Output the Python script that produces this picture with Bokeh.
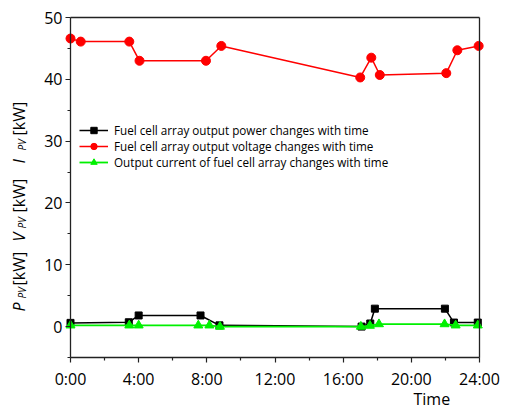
import math
from bokeh.plotting import figure
from bokeh.models import FixedTicker, Label, LinearAxis
from bokeh.embed import file_html
from bokeh.resources import INLINE

# ---- data ----
hours_power = [0, 3.42, 4.0, 7.63, 8.74, 17.08, 17.59, 17.86, 21.97, 22.5, 23.9]
power_kw = [0.6, 0.7, 1.8, 1.8, 0.2, 0.0, 0.5, 2.9, 2.9, 0.65, 0.65]

hours_voltage = [0, 0.6, 3.45, 4.05, 7.95, 8.85, 17.0, 17.65, 18.15, 22.05, 22.7, 23.95]
voltage_kw = [46.6, 46.1, 46.1, 43.0, 43.0, 45.4, 40.3, 43.5, 40.7, 41.0, 44.7, 45.4]

hours_current = [0, 3.45, 4.0, 7.5, 8.15, 8.77, 17.04, 17.57, 18.1, 21.95, 22.6, 23.9]
current_kw = [0.2, 0.2, 0.2, 0.2, 0.2, 0.0, 0.0, 0.15, 0.4, 0.4, 0.2, 0.2]

x_tick_values = [0, 4, 8, 12, 16, 20, 24]
x_tick_labels = ["0:00", "4:00", "8:00", "12:00", "16:00", "20:00", "24:00"]
x_minor_values = [2, 6, 10, 14, 18, 22]
y_tick_values = [0, 10, 20, 30, 40, 50]
y_minor_values = [-5, 5, 15, 25, 35, 45]

labels = [
    "Fuel cell array output power changes with time",
    "Fuel cell array output voltage changes with time",
    "Output current of fuel cell array changes with time",
]

FONT = "Open Sans"
AX = "#222222"

X0, X1 = 0, 24          # plotted time span
Y0, Y1 = -5, 50         # plotted value span
W, H = 505, 408
FL, FR, FT, FB = 70, 479, 17, 357   # page pixels of the plot box

sx = (FR - FL) / (X1 - X0)
sy = (FB - FT) / (Y1 - Y0)
xr = (X0 - FL / sx, X1 + (W - FR) / sx)
yr = (Y0 - (H - FB) / sy, Y1 + FT / sy)

# the frame fills the canvas; axes are pinned to the plot box edges
p = figure(width=W, height=H, x_range=xr, y_range=yr,
           output_backend="svg", toolbar_location=None,
           x_axis_location=None, y_axis_location=None,
           min_border_left=0, min_border_right=0,
           min_border_top=0, min_border_bottom=0)
p.xgrid.visible = False
p.ygrid.visible = False
p.outline_line_color = None
p.background_fill_color = "white"
p.border_fill_color = "white"


def style_axis(ax):
    ax.axis_line_color = AX
    ax.axis_line_width = 1.3
    ax.major_tick_line_color = AX
    ax.minor_tick_line_color = AX
    ax.major_tick_line_width = 1.2
    ax.minor_tick_line_width = 1.2
    ax.major_tick_out = 5
    ax.major_tick_in = 0
    ax.minor_tick_out = 3
    ax.minor_tick_in = 0
    ax.major_label_text_font = FONT
    ax.major_label_text_font_size = "16px"
    ax.major_label_text_color = "black"


xaxis = LinearAxis(fixed_location=Y0, bounds=(X0, X1),
                   ticker=FixedTicker(ticks=x_tick_values, minor_ticks=x_minor_values),
                   major_label_overrides=dict(zip(x_tick_values, x_tick_labels)),
                   major_label_standoff=5)
style_axis(xaxis)
p.add_layout(xaxis, "below")

yaxis = LinearAxis(fixed_location=X0, bounds=(Y0, Y1),
                   ticker=FixedTicker(ticks=y_tick_values, minor_ticks=y_minor_values),
                   major_label_standoff=3)
style_axis(yaxis)
p.add_layout(yaxis, "left")

# plain frame lines on top and right
for place, loc, bnds in (("above", Y1, (X0, X1)), ("right", X1, (Y0, Y1))):
    ax = LinearAxis(fixed_location=loc, bounds=bnds, ticker=FixedTicker(ticks=[]),
                    major_label_text_font_size="0px")
    ax.axis_line_color = AX
    ax.axis_line_width = 1.3
    ax.major_tick_line_color = None
    ax.minor_tick_line_color = None
    p.add_layout(ax, place)

GREEN = "#00f000"

# series
p.line(hours_power, power_kw, line_color="black", line_width=1.5, legend_label=labels[0])
p.scatter(hours_power, power_kw, marker="square", size=7, fill_color="black",
          line_color="black", legend_label=labels[0])

p.line(hours_voltage, voltage_kw, line_color="#ff0000", line_width=1.5, legend_label=labels[1])
p.scatter(hours_voltage, voltage_kw, marker="circle", size=9, fill_color="#ff0000",
          line_color="#ff0000", legend_label=labels[1])

p.line(hours_current, current_kw, line_color=GREEN, line_width=1.8, legend_label=labels[2])
p.scatter(hours_current, current_kw, marker="triangle", size=9, fill_color=GREEN,
          line_color=GREEN, legend_label=labels[2])

lg = p.legend[0]
lg.location = (79, H - 170)
lg.background_fill_alpha = 0
lg.border_line_alpha = 0
lg.label_text_font = FONT
lg.label_text_font_size = "11.7px"
lg.label_text_color = "black"
lg.glyph_width = 29
lg.glyph_height = 16
lg.label_height = 16
lg.spacing = 0
lg.padding = 0
lg.margin = 0
lg.label_standoff = 6


def to_data(px, py):
    return xr[0] + px / sx, yr[1] - py / sy


def add_text(txt, px, py, size, style="normal", angle=0.0):
    x, y = to_data(px, py)
    p.add_layout(Label(x=x, y=y, text=txt, angle=angle, text_font=FONT,
                       text_font_size=size, text_font_style=style,
                       text_color="black", text_align="left",
                       text_baseline="alphabetic"))


# x axis title
add_text("Time", 413, 398, "16px")

# y axis title: P_PV [kW]   V_PV [kW]   I_PV [kW]
up = math.pi / 2
for letter, start, sub_start, unit_start in (("P", 311, 298, 285),
                                             ("V", 241, 228, 212),
                                             ("I", 163, 150, 135)):
    add_text(letter, 18.5, start, "16px", "italic", up)
    add_text("PV", 21, sub_start, "10px", "italic", up)
    add_text("[kW]", 18.5, unit_start, "16px", "normal", up)

open("out.html", "w").write(file_html(p, INLINE))
